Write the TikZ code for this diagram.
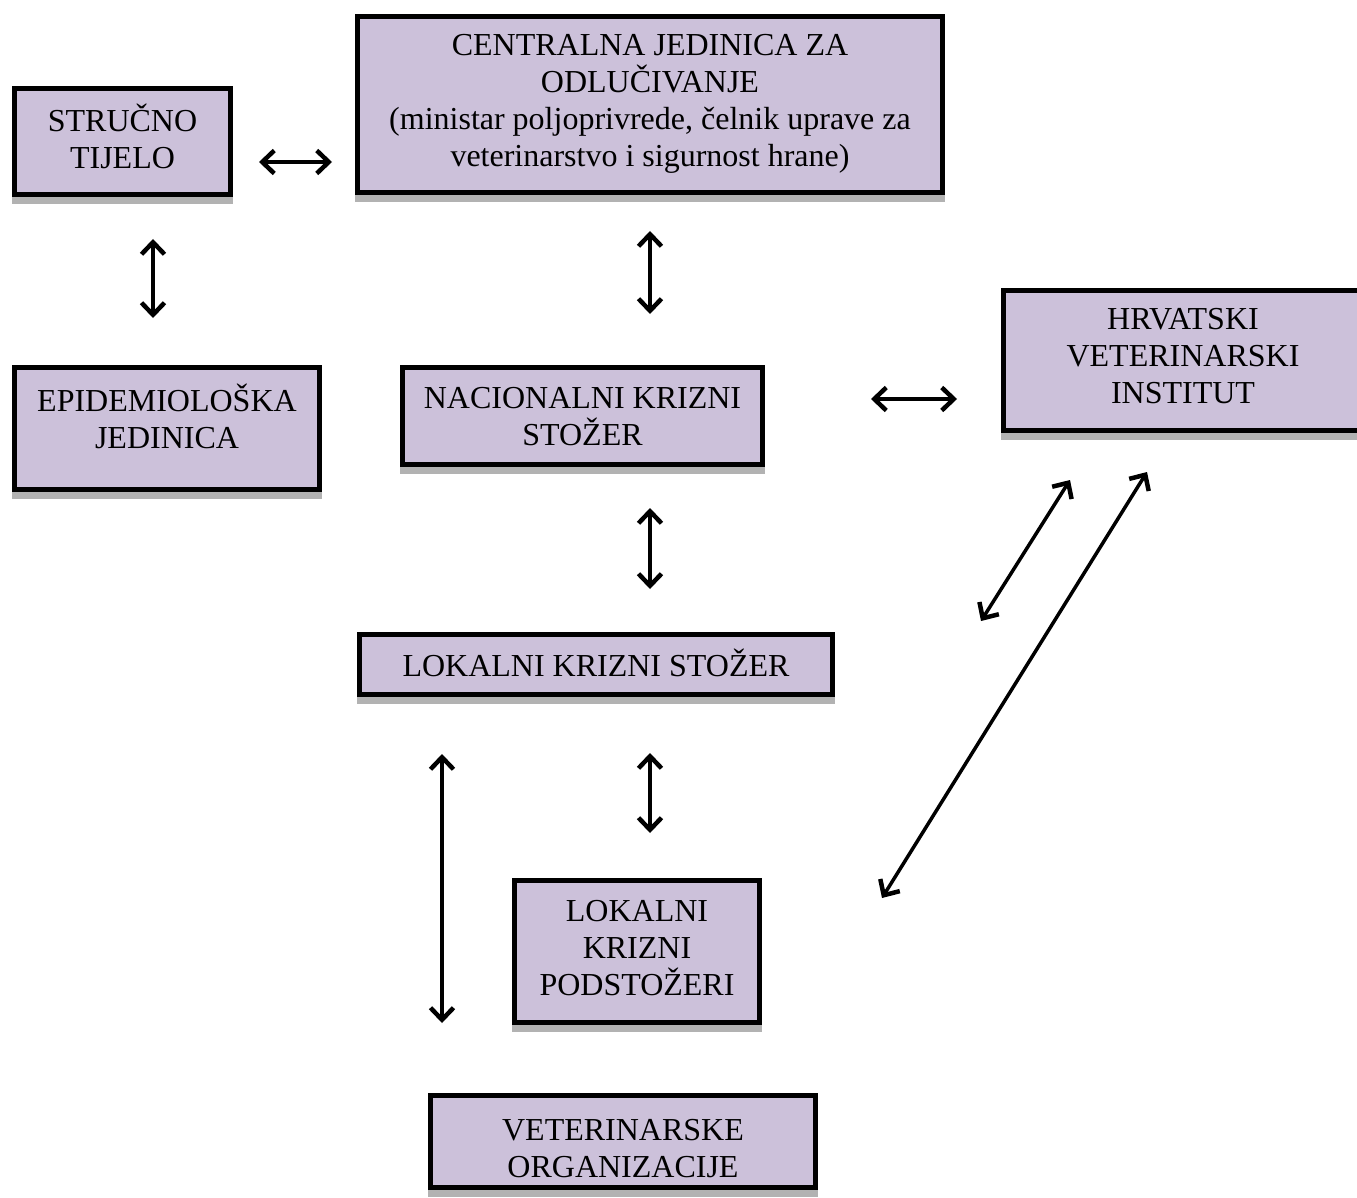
\documentclass[tikz,border=0pt]{standalone}
\usepackage{fontspec}
\setmainfont{Liberation Serif}
\usetikzlibrary{arrows.meta,calc}
\definecolor{lav}{HTML}{CCC1DA}
\tikzset{
  box/.style={draw=black, line width=5pt, fill=lav, inner sep=0pt,
    preaction={draw=gray!60, fill=gray!60, line width=5pt, transform canvas={yshift=-7pt}}},
  txt/.style={align=center, inner sep=0pt, font=\fontsize{32}{37}\selectfont},
  barb/.tip={Straight Barb[length=12pt,width=23pt,line width=4.5pt]},
  arr/.style={line width=3.5pt, barb-barb}
}
\begin{document}
\begin{tikzpicture}[x=1pt,y=-1pt]
\useasboundingbox (0,0) rectangle (1357,1198);
\node[box, minimum width=216, minimum height=106] (s) at (122.5,141.5) {};
\node[txt] (st) at ($(s)+(0,-5)$) {STRUČNO\\TIJELO};
\node[box, minimum width=585, minimum height=176] (c) at (650,104.5) {};
\node[txt] (ct) at ($(c)+(0,-1)$) {CENTRALNA JEDINICA ZA\\ODLUČIVANJE\\(ministar poljoprivrede, čelnik uprave za\\veterinarstvo i sigurnost hrane)};
\node[box, minimum width=360, minimum height=140] (h) at (1183,360.5) {};
\node[txt] (ht) at ($(h)+(0,-4)$) {HRVATSKI\\VETERINARSKI\\INSTITUT};
\node[box, minimum width=305, minimum height=122] (e) at (167,428.5) {};
\node[txt] (et) at ($(e)+(0,-12)$) {EPIDEMIOLOŠKA\\JEDINICA};
\node[box, minimum width=360, minimum height=97] (n) at (582.5,416) {};
\node[txt] (nt) at ($(n)+(0,1)$) {NACIONALNI KRIZNI\\STOŽER};
\node[box, minimum width=473, minimum height=60] (l) at (596,664.5) {};
\node[txt] (lt) at ($(l)+(0,-2)$) {LOKALNI KRIZNI STOŽER};
\node[box, minimum width=245, minimum height=142] (p) at (637,951.5) {};
\node[txt] (pt) at ($(p)+(0,-3)$) {LOKALNI\\KRIZNI\\PODSTOŽERI};
\node[box, minimum width=385, minimum height=92] (v) at (623,1141.5) {};
\node[txt] (vt) at ($(v)+(0,7)$) {VETERINARSKE\\ORGANIZACIJE};

\coordinate (a1) at (259,162); \coordinate (a2) at (332,162);
\coordinate (b1) at (153,239); \coordinate (b2) at (153,318);
\coordinate (c1) at (650,231); \coordinate (c2) at (650,314);
\coordinate (d1) at (871,399); \coordinate (d2) at (957,399);
\coordinate (e1) at (650,508); \coordinate (e2) at (650,589);
\coordinate (f1) at (650,753); \coordinate (f2) at (650,833);
\coordinate (g1) at (442,754); \coordinate (g2) at (442,1023);
\coordinate (h1) at (1070,480); \coordinate (h2) at (981,621);
\coordinate (i1) at (1147,472); \coordinate (i2) at (882,898);

\draw[arr] (a1) -- (a2);
\draw[arr] (b1) -- (b2);
\draw[arr] (c1) -- (c2);
\draw[arr] (d1) -- (d2);
\draw[arr] (e1) -- (e2);
\draw[arr] (f1) -- (f2);
\draw[arr] (g1) -- (g2);
\draw[arr] (h1) -- (h2);
\draw[arr] (i1) -- (i2);
\end{tikzpicture}
\end{document}
